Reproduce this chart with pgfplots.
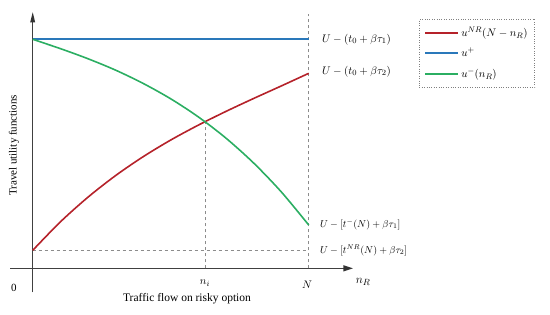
\documentclass[border=0pt]{standalone}
\usepackage{fontspec}
\setmainfont{Liberation Serif}
\usepackage{pgfplots}
\pgfplotsset{compat=1.18}
\usetikzlibrary{arrows.meta}
\definecolor{cred}{HTML}{B5222A}
\definecolor{cblue}{HTML}{2A78BA}
\definecolor{cgreen}{HTML}{2BAE62}
\definecolor{cdash}{HTML}{8C8C8C}
\begin{document}
\fontsize{11}{13}\selectfont
\begin{tikzpicture}
\begin{axis}[
  axis lines=none,
  scale only axis,
  x=276pt, y=1pt,
  xmin=-0.1185, xmax=1.874,
  ymin=-45.7, ymax=268.3,
  clip=false,
  legend style={at={(0.762,0.94)},anchor=north west,
    draw=gray, dotted, font=\fontsize{11}{13}\selectfont,
    inner xsep=5pt, inner ysep=6pt, row sep=6pt},
  legend cell align=left,
  legend image code/.code={\draw[#1,solid,line width=2pt] (0pt,0pt) -- (33pt,0pt);},
]
% keep the full frame as bounding box
\path (rel axis cs:0,0) rectangle (rel axis cs:1,1);
% axes
\draw[black!75,line width=0.9pt] (axis cs:0,-24) -- (axis cs:0,250);
\fill[black!80] (axis cs:0,256) -- (axis cs:-0.009,246) -- (axis cs:0.009,246) -- cycle;
\draw[black!75,line width=0.9pt] (axis cs:-0.082,0) -- (axis cs:1.14,0);
\fill[black!80] (axis cs:1.16,0) -- (axis cs:1.125,3.2) -- (axis cs:1.125,-3.2) -- cycle;
% guide lines
\draw[cdash,dashed,line width=0.7pt] (axis cs:1,0) -- (axis cs:1,254);
\draw[cdash,dashed,line width=0.7pt] (axis cs:0,17.6) -- (axis cs:1,17.6);
\draw[cdash,dashed,line width=0.7pt] (axis cs:0.624,0) -- (axis cs:0.624,146.6);

\addplot[color=cred,line width=1.6pt,smooth] coordinates {
  (0,18)(0.1,46.4)(0.2,71.1)(0.3,92.7)(0.4,111.6)(0.5,128.3)(0.6,143.2)
  (0.7,156.9)(0.8,169.8)(0.9,182.3)(1,195)
};
\addlegendentry{$u^{NR}(N-n_R)$}
\addplot[color=cblue,line width=2pt] coordinates {(0,229.2)(1,229.2)};
\addlegendentry{$u^{+}$}
\addplot[color=cgreen,line width=1.6pt,smooth] coordinates {
  (0,229)(0.1,219.7)(0.2,209.6)(0.3,198.2)(0.4,184.9)(0.5,169.5)(0.6,151.4)
  (0.7,130.2)(0.8,105.4)(0.9,76.6)(1,43.3)
};
\addlegendentry{$u^{-}(n_R)$}

% labels
\node[anchor=west] at (axis cs:1.034,229) {$U-(t_0+\beta\tau_1)$};
\node[anchor=west] at (axis cs:1.034,197) {$U-(t_0+\beta\tau_2)$};
\node[anchor=west,font=\fontsize{10}{12}\selectfont] at (axis cs:1.027,44) {$U-[t^{-}(N)+\beta\tau_1]$};
\node[anchor=west,font=\fontsize{10}{12}\selectfont] at (axis cs:1.027,18) {$U-[t^{NR}(N)+\beta\tau_2]$};
\node at (axis cs:-0.068,-19.7) {0};
\node at (axis cs:0.624,-15) {$n_i$};
\node at (axis cs:0.994,-16) {$N$};
\node[font=\fontsize{13}{15}\selectfont] at (axis cs:1.197,-14) {$n_R$};
\node[font=\fontsize{11.5}{13}\selectfont] at (axis cs:0.559,-30) {Traffic flow on risky option};
\node[rotate=90] at (axis cs:-0.068,123) {Travel utility functions};
\end{axis}
\end{tikzpicture}
\end{document}
